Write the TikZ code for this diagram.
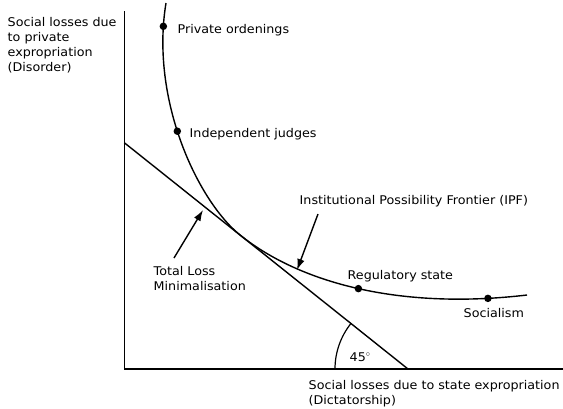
\documentclass[tikz,border=0pt]{standalone}
\usepackage{fontspec}
\setmainfont[FakeStretch=1.06]{DejaVu Sans}
\usetikzlibrary{arrows.meta}
\begin{document}
\begin{tikzpicture}[x=1pt,y=-1pt,
  line width=1.4pt,
  lbl/.style={inner sep=0pt,anchor=base west,align=left,
    font=\fontsize{12}{14.8}\selectfont},
  dot/.style={circle,fill=black,inner sep=0pt,minimum size=7.5pt},
  pointer/.style={-{Latex[length=11pt,width=7.5pt]},line width=1.4pt}]
\useasboundingbox (0,0) rectangle (563,408);

% axes
\coordinate (ytop) at (124.3,11);
\coordinate (origin) at (124.3,369);
\coordinate (xend) at (563,369);
\draw (ytop) -- (origin) -- (xend);

% 45 degree total-loss line
\coordinate (tl0) at (124.3,142.7);
\coordinate (tl1) at (408,369);
\draw (tl0) -- (tl1);
\draw[line width=1.2pt] (tl1) ++(180:73) arc[start angle=180,end angle=218.5,radius=73];

% institutional possibility frontier
\coordinate (f0) at (166,3);
\coordinate (ft) at (240,235);
\coordinate (f1) at (527,295);
\draw (f0) .. controls (150,100) and (198,201) .. (ft)
   node[dot,pos=0.08] (po) {}
   node[dot,pos=0.455] (ij) {};
\draw (ft) .. controls (300,283) and (400,310) .. (f1)
   node[dot,pos=0.5] (rs) {}
   node[dot,pos=0.895] (so) {};

% labels (multi-line labels are placed by the baseline of their last line)
\node[lbl] (ylab) at (7,71) {Social losses due\\to private\\expropriation\\(Disorder)};
\node[lbl] (xlab) at (308,404) {Social losses due to state expropriation\\(Dictatorship)};
\node[lbl] (polab) at (177,33) {Private ordenings};
\node[lbl] (ijlab) at (189,137.5) {Independent judges};
\node[lbl] (ipflab) at (299,204) {Institutional Possibility Frontier (IPF)};
\node[lbl] (tlmlab) at (153,290) {Total Loss\\Minimalisation};
\node[lbl] (rslab) at (347,279) {Regulatory state};
\node[lbl] (solab) at (463,317) {Socialism};
\node[lbl] (anglab) at (349,361) {45$^{\circ}$};

% pointers
\coordinate (tlmtail) at (174,258);
\coordinate (tlmtip) at (203,210);
\coordinate (ipftail) at (318,214);
\coordinate (ipftip) at (297,270);
\draw[pointer] (tlmtail) -- (tlmtip);
\draw[pointer] (ipftail) -- (ipftip);
\end{tikzpicture}
\end{document}
